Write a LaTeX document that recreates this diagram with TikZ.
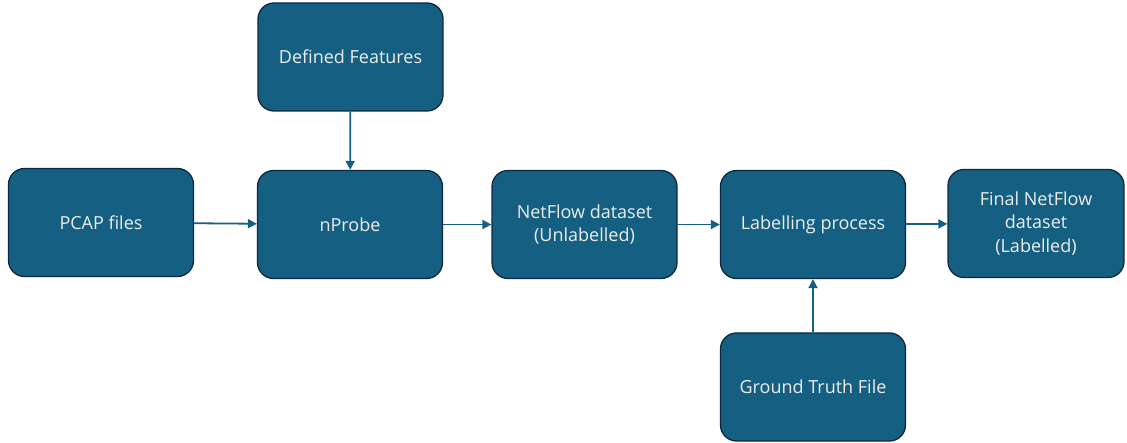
\documentclass[tikz,border=0pt]{standalone}
\usepackage{fontspec}
\setmainfont{Open Sans}
\usepackage{tikz}
\usetikzlibrary{arrows.meta}
\usetikzlibrary{positioning}
\definecolor{boxblue}{HTML}{156082}
\definecolor{boxedge}{HTML}{0E2841}
\definecolor{boxtext}{HTML}{EDEDED}

\begin{document}
\begin{tikzpicture}[x=1pt, y=-1pt,
		every node/.style={rectangle, rounded corners=16pt, fill=boxblue, draw=boxedge, line width=1.3pt,
			text=boxtext, minimum width=185pt, minimum height=108pt, align=center, font=\fontsize{18}{23.5}\selectfont},
		flow/.style={-{Triangle[length=9pt, width=9pt]}, draw=boxblue, line width=1.8pt}]
			\useasboundingbox (0, 0) rectangle (1127, 443);
			\node (feat) at (350.5, 57) {Defined Features};
			\node (pcap) at (101, 222.5) {PCAP files};
			\node (nprobe) at (350, 224.5) {nProbe};
			\node (raw) at (584.5, 224.5) {NetFlow dataset\\(Unlabelled)};
			\node (label) at (813, 224.5) {Labelling process};
			\node[minimum width=176pt] (final) at (1036, 223.5) {Final NetFlow\\dataset\\(Labelled)};
			\node (truth) at (813, 387) {Ground Truth File};
			% main flow
			\draw[flow] (pcap) -- (nprobe);
			\draw[flow] (nprobe) -- (raw);
			\draw[flow] (raw) -- (label);
			\draw[flow] (label) -- (final);
			% side inputs
			\draw[flow] (feat) -- (nprobe);
			\draw[flow] (truth) -- (label);
		\end{tikzpicture}
\end{document}
